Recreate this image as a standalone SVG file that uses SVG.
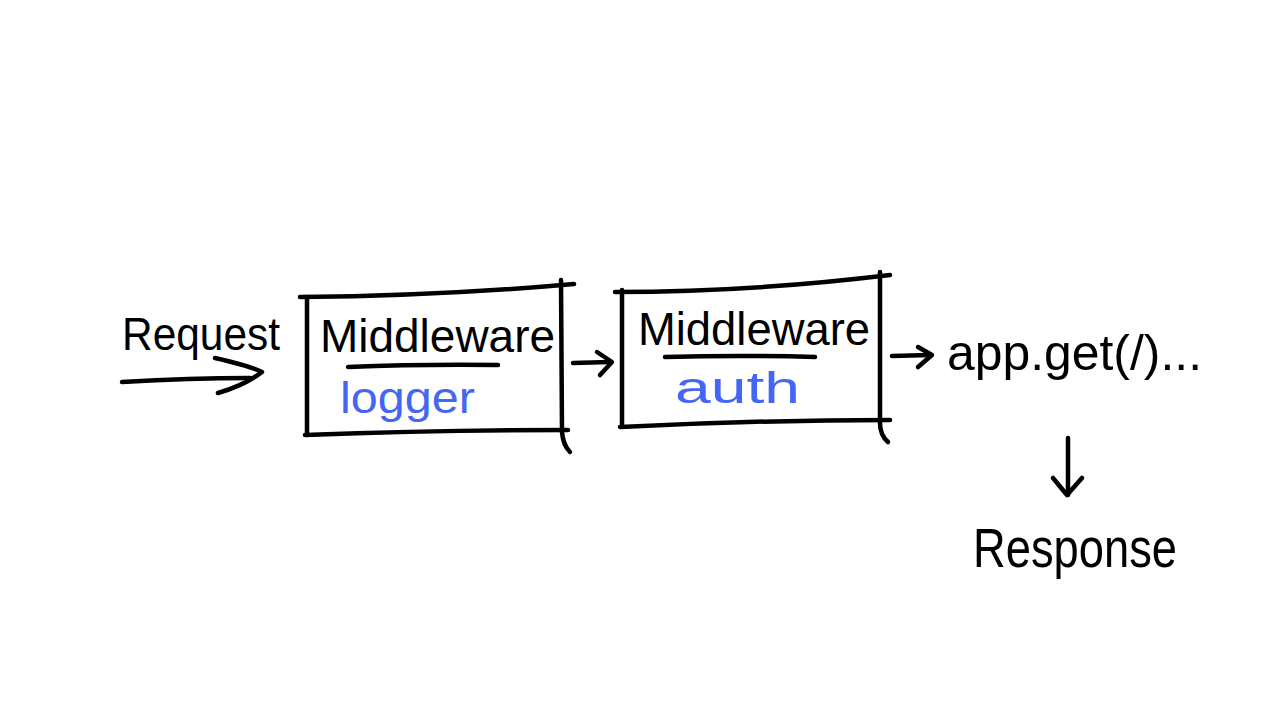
<svg xmlns="http://www.w3.org/2000/svg" width="1280" height="720" viewBox="0 0 1280 720">
<style>
.s{fill:none;stroke:#000;stroke-width:4.5;stroke-linecap:round;stroke-linejoin:round}
.t{font-family:"Liberation Sans","DejaVu Sans",sans-serif;fill:#000}
.b{font-family:"Liberation Sans","DejaVu Sans",sans-serif;fill:#4466f5}
</style>
<rect width="1280" height="720" fill="#fff"/>
<g id="request">
<text class="t" x="122" y="350" font-size="46" textLength="158" lengthAdjust="spacingAndGlyphs">Request</text>
</g>
<g id="mw-logger">
<path class="s" d="M300,297 Q440,296 574,284"/>
<path class="s" d="M307,297 L307,435"/>
<path class="s" d="M305,435 Q440,430 568,430"/>
<path class="s" d="M561,280 L562,432 Q563,445 570,452"/>
<text class="t" x="320" y="352" font-size="46" textLength="235" lengthAdjust="spacingAndGlyphs">Middleware</text>
<path class="s" d="M348,367 Q420,364 498,365"/>
<text class="b" x="340" y="413" font-size="44" textLength="135" lengthAdjust="spacingAndGlyphs">logger</text>
</g>
<g id="mw-auth">
<path class="s" d="M615,292 Q750,292 890,275"/>
<path class="s" d="M622,290 L622,427"/>
<path class="s" d="M620,427 Q760,420 890,420"/>
<path class="s" d="M880,272 L880,423 Q880,435 888,442"/>
<text class="t" x="638" y="345" font-size="46" textLength="232" lengthAdjust="spacingAndGlyphs">Middleware</text>
<path class="s" d="M665,357 Q740,355 815,357"/>
<text class="b" x="675" y="403" font-size="44" textLength="125" lengthAdjust="spacingAndGlyphs">auth</text>
</g>
<g id="handler">
<text class="t" x="947" y="370" font-size="50" textLength="255" lengthAdjust="spacingAndGlyphs">app.get(/)...</text>
</g>
<g id="response">
<text class="t" x="973" y="567" font-size="56" textLength="204" lengthAdjust="spacingAndGlyphs">Response</text>
</g>
<g id="connectors">
<path class="s" d="M122,382 Q190,378 250,378"/>
<path class="s" d="M215,358 Q250,366 262,372 Q245,385 218,393"/>
<path class="s" d="M573,363 L610,362"/>
<path class="s" d="M597,352 L612,362 L600,375"/>
<path class="s" d="M892,356 L930,355"/>
<path class="s" d="M918,347 L932,355 L918,367"/>
<path class="s" d="M1068,438 L1068,495"/>
<path class="s" d="M1053,478 L1067,495 L1082,478"/>
</g>
</svg>
